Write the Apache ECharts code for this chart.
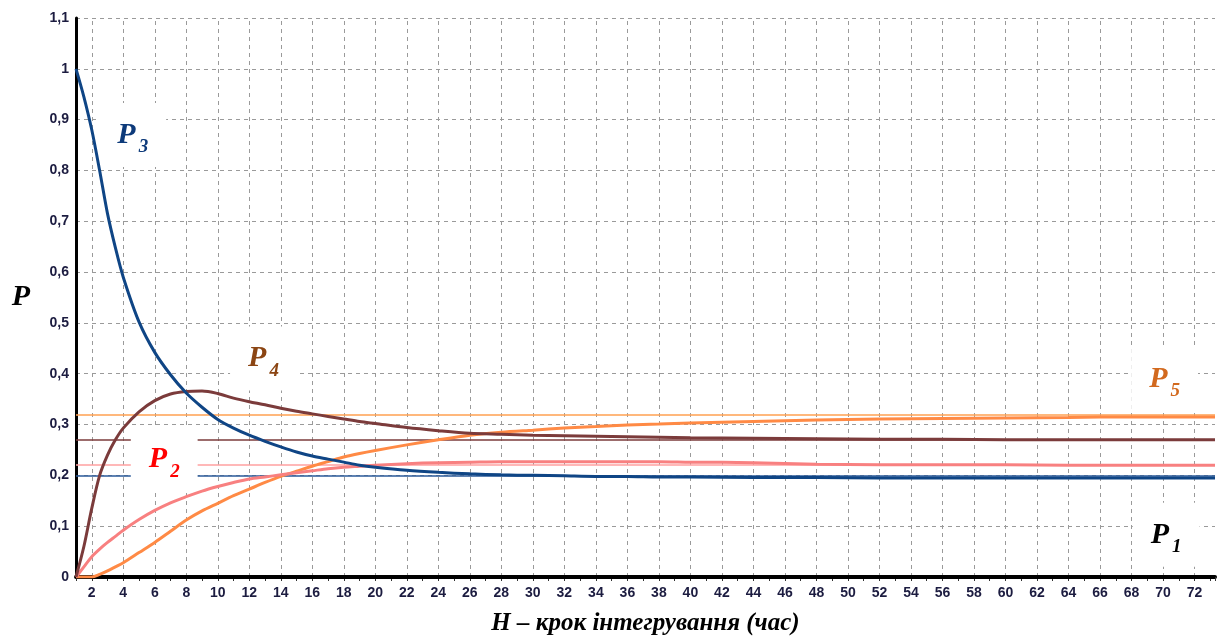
<!DOCTYPE html>
<html>
<head>
<meta charset="utf-8">
<script src="https://cdn.jsdelivr.net/npm/echarts@6/dist/echarts.min.js"></script>
<style>
html, body { margin: 0; padding: 0; background: #fff; }
#app { width: 1218px; height: 641px; }
</style>
</head>
<body>
<div id="app"></div>
<script>
// крок інтегрування
const steps = [1, 1.5, 2, 2.5, 3, 3.5, 4, 5, 6, 7, 8, 9, 10, 11, 12, 13, 14, 15, 16, 17, 18, 19, 20,
	22, 24, 26, 28, 30, 32, 34, 36, 38, 40, 44, 48, 52, 56, 60, 64, 68, 73.3];

const p1 = [0, 0, 0, 0, 0, 0, 0, 0, 0, 0, 0, 0, 0, 0, 0, 0, 0, 0, 0, 0, 0, 0, 0,
	0, 0, 0, 0, 0, 0, 0, 0, 0, 0, 0, 0, 0, 0, 0, 0, 0, 0];
const p2 = [0, 0.02, 0.04, 0.055, 0.068, 0.08, 0.092, 0.113, 0.131, 0.146, 0.158, 0.169, 0.178, 0.186, 0.193, 0.197, 0.201, 0.205, 0.209, 0.213, 0.216, 0.218, 0.22,
	0.223, 0.225, 0.226, 0.227, 0.227, 0.227, 0.227, 0.227, 0.227, 0.226, 0.225, 0.222, 0.221, 0.221, 0.221, 0.22, 0.22, 0.22];
const p3 = [1, 0.945, 0.88, 0.8, 0.715, 0.648, 0.59, 0.502, 0.442, 0.398, 0.362, 0.334, 0.31, 0.293, 0.279, 0.267, 0.256, 0.246, 0.238, 0.232, 0.226, 0.22, 0.216,
	0.21, 0.206, 0.203, 0.201, 0.2, 0.199, 0.198, 0.198, 0.197, 0.197, 0.196, 0.196, 0.195, 0.195, 0.195, 0.195, 0.195, 0.195];
const p4 = [0, 0.06, 0.135, 0.2, 0.24, 0.27, 0.293, 0.325, 0.347, 0.36, 0.365, 0.366, 0.361, 0.352, 0.345, 0.339, 0.332, 0.326, 0.321, 0.316, 0.311, 0.306, 0.302,
	0.294, 0.288, 0.283, 0.281, 0.279, 0.278, 0.277, 0.276, 0.275, 0.274, 0.273, 0.272, 0.271, 0.271, 0.27, 0.27, 0.27, 0.27];
const p5 = [0, 0, 0, 0.005, 0.012, 0.02, 0.028, 0.048, 0.068, 0.09, 0.112, 0.13, 0.145, 0.16, 0.173, 0.186, 0.198, 0.208, 0.218, 0.227, 0.236, 0.243, 0.249,
	0.26, 0.27, 0.279, 0.285, 0.289, 0.293, 0.296, 0.299, 0.301, 0.303, 0.306, 0.309, 0.311, 0.312, 0.313, 0.314, 0.315, 0.315];

// усталені значення
const limits = [
	{ name: 'P5', value: 0.315, color: '#ffa050' },
	{ name: 'P4', value: 0.27, color: '#7b3b3b' },
	{ name: 'P2', value: 0.22, color: '#ffa0a0' },
	{ name: 'P3', value: 0.195, color: '#2a5a9a' }
];

const gridSteps = [2, 4, 6, 8, 10, 12, 14, 16, 18, 20, 22, 24, 26, 28, 30, 32, 34, 36,
	38, 40, 42, 44, 46, 48, 50, 52, 54, 56, 58, 60, 62, 64, 66, 68, 70, 72];

// підписи кривих: [крок, P, індекс, колір]
const curveLabels = [
	[4.6, 0.87, '3', '#0d3a7a'],
	[12.9, 0.43, '4', '#8b4513'],
	[6.6, 0.232, '2', '#ff0000'],
	[70.1, 0.39, '5', '#d2691e'],
	[70.2, 0.083, '1', '#000000']
];

const zip = (ys) => steps.map((x, i) => [x, ys[i]]);

const serifFont = '"Liberation Serif", "DejaVu Serif", serif';
const tickFont = '"Liberation Sans", Arial, sans-serif';

let chart = echarts.init(document.getElementById('app'));

function curve(name, data, color, width, z) {
	return {
		name: name,
		type: 'line',
		data: zip(data),
		showSymbol: false,
		symbol: 'none',
		smooth: 0.3,
		z: z,
		lineStyle: { color: color, width: width },
		itemStyle: { color: color }
	};
}

let option = {
	backgroundColor: '#fff',
	animation: false,
	grid: { left: 76, right: 0, top: 18, bottom: 64 },
	xAxis: {
		type: 'value',
		min: 1,
		max: 73.3,
		interval: 1,
		name: 'H – крок інтегрування (час)',
		nameLocation: 'middle',
		nameGap: 34,
		nameTextStyle: {
			fontFamily: serifFont, fontSize: 25, fontWeight: 'bold', fontStyle: 'italic', color: '#000'
		},
		axisLine: { lineStyle: { color: '#000', width: 4 } },
		axisTick: { show: true, length: 4, lineStyle: { color: '#333', width: 1 } },
		minorTick: { show: true, splitNumber: 2, length: 2, lineStyle: { color: '#555' } },
		axisLabel: {
			margin: 9,
			fontFamily: tickFont, fontSize: 14, fontWeight: 'bold', color: '#1c1c40',
			formatter: function(v) {
				return (Math.abs(v % 2) < 1e-9 && v > 1) ? String(v) : '';
			}
		},
		splitLine: { show: false }
	},
	yAxis: {
		type: 'value',
		min: 0,
		max: 1.1,
		interval: 0.1,
		name: 'P',
		nameLocation: 'middle',
		nameRotate: 0,
		nameGap: 46,
		nameTextStyle: {
			fontFamily: serifFont, fontSize: 30, fontWeight: 'bold', fontStyle: 'italic', color: '#000'
		},
		axisLine: { show: true, lineStyle: { color: '#000', width: 3 } },
		axisTick: { show: false },
		axisLabel: {
			margin: 7,
			fontFamily: tickFont, fontSize: 14, fontWeight: 'bold', color: '#1c1c40',
			formatter: function(v) {
				return String(+v.toFixed(1)).replace('.', ',');
			}
		},
		splitLine: { show: true, lineStyle: { color: '#9a9a9a', width: 1, type: [4, 4] } }
	},
	series: [
		{
			name: 'grid',
			type: 'line',
			data: [],
			silent: true,
			z: 1,
			markLine: {
				silent: true,
				z: 1,
				symbol: 'none',
				label: { show: false },
				lineStyle: { color: '#9a9a9a', width: 1, type: [4, 4] },
				data: gridSteps.map((x) => ({ xAxis: x }))
			}
		},
		{
			name: 'limits',
			type: 'line',
			data: [],
			silent: true,
			z: 2,
			markLine: {
				silent: true,
				z: 2,
				symbol: 'none',
				label: { show: false },
				data: limits.map((l) => ({ yAxis: l.value, lineStyle: { color: l.color, width: 1.5, type: 'solid' } }))
			}
		},
		curve('P1', p1, '#000', 4, 5),
		curve('P5', p5, '#ff8a45', 3, 6),
		curve('P2', p2, '#f88080', 3, 6),
		curve('P4', p4, '#7b3b3b', 3, 7),
		curve('P3', p3, '#0f4585', 3, 8),
		{
			// підписи лежать над сіткою, але під кривими
			name: 'labels',
			type: 'scatter',
			symbolSize: 0,
			silent: true,
			z: 3,
			itemStyle: { opacity: 1 },
			data: curveLabels.map((d) => ({
				value: [d[0], d[1]],
				label: {
					show: true,
					position: 'inside',
					formatter: '{a|P}{b|' + d[2] + '}',
					backgroundColor: '#fff',
					textBorderWidth: 0,
					padding: [10, 18, 10, 18],
					rich: {
						a: {
							fontFamily: serifFont, fontSize: 30, fontWeight: 'bold', fontStyle: 'italic',
							color: d[3], textBorderWidth: 0, lineHeight: 30, verticalAlign: 'middle'
						},
						b: {
							fontFamily: serifFont, fontSize: 19, fontWeight: 'bold', fontStyle: 'italic',
							color: d[3], textBorderWidth: 0, lineHeight: 44, verticalAlign: 'bottom', padding: [0, 0, 0, 3]
						}
					}
				}
			}))
		}
	]
};

chart.setOption(option);
</script>
</body>
</html>
